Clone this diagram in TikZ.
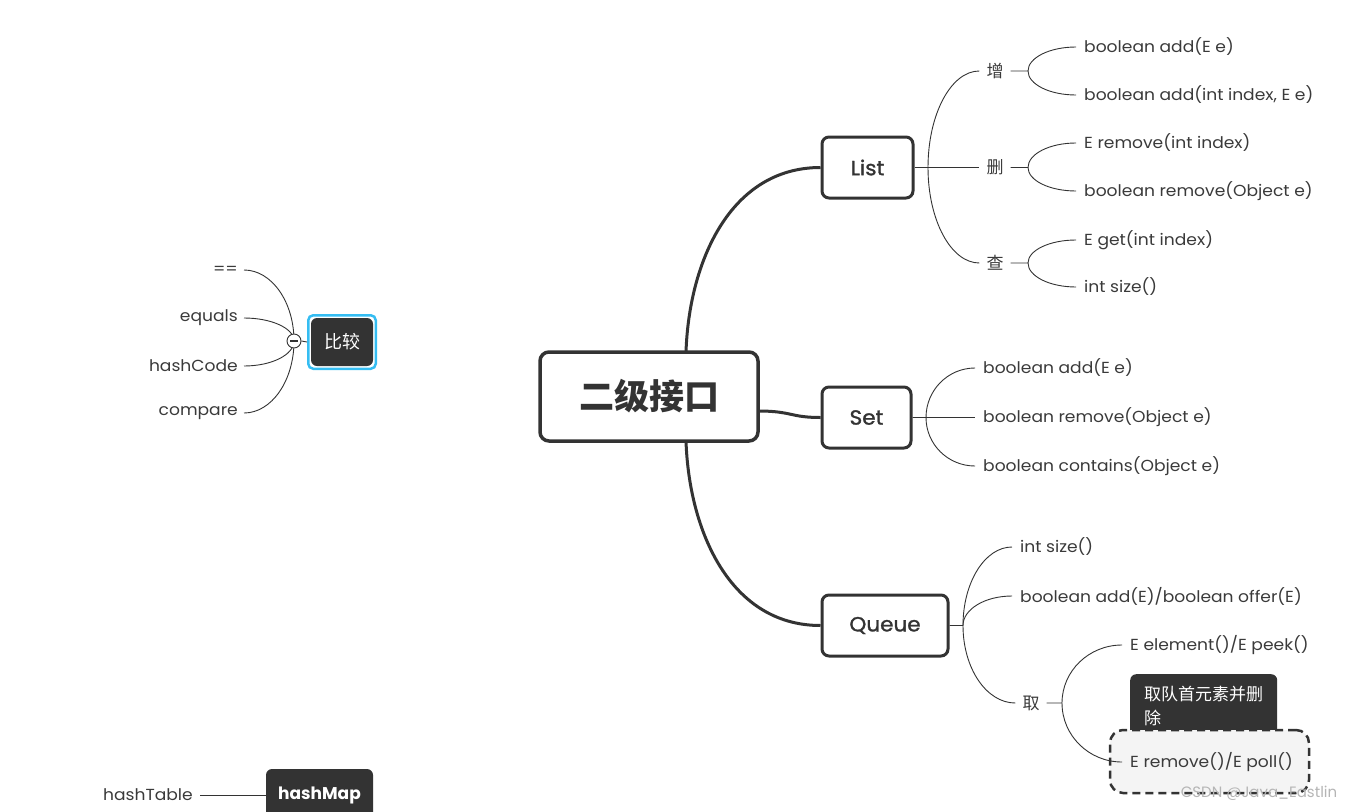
\documentclass[tikz,border=0pt]{standalone}
\usepackage{fontspec}
\usetikzlibrary{calc}
\setmainfont{Poppins}
\newfontfamily\leaffont{Poppins}[FakeStretch=1.07]
\newfontfamily\subfont{Poppins}[FakeBold=1.3,FakeStretch=1.05]
\newfontfamily\cjk{Noto Sans CJK SC}
\definecolor{ink}{HTML}{333333}
\definecolor{txt}{HTML}{3A3A3A}
\definecolor{hl}{HTML}{35BDF2}
\definecolor{selbg}{HTML}{F4F4F4}
\definecolor{wm}{HTML}{B5B5B5}
\begin{document}
\begin{tikzpicture}[x=1pt,y=-1pt,
 rootbox/.style={draw=ink,line width=3.5pt,rounded corners=9pt,fill=white,minimum width=218pt,minimum height=89pt,inner sep=0pt,text=ink,font=\cjk\bfseries\fontsize{35}{40}\selectfont},
 subbox/.style={draw=ink,line width=3pt,rounded corners=7pt,fill=white,minimum height=61pt,inner sep=0pt,text=ink,font=\subfont\fontsize{20.5}{24}\selectfont},
 branch/.style={draw=ink,line width=3pt},
 twig/.style={draw=ink,line width=0.9pt},
 leaf/.style={anchor=west,inner xsep=8pt,inner ysep=0pt,text=txt,font=\leaffont\fontsize{16}{18}\selectfont},
 leafl/.style={anchor=east,inner xsep=6pt,inner ysep=0pt,text=txt,font=\leaffont\fontsize{16}{18}\selectfont},
 hz/.style={inner xsep=7pt,inner ysep=0pt,text=txt,font=\cjk\fontsize{17}{20}\selectfont},
 dark/.style={fill=ink,text=white,rounded corners=6pt,inner sep=0pt},
 arcto/.style={to path={.. controls ($(\tikztostart)!0.552!(\tikztostart|-\tikztotarget)$) and ($(\tikztotarget)!0.552!(\tikztostart|-\tikztotarget)$) .. (\tikztotarget)}},
]
\useasboundingbox (0,0) rectangle (1354,811);

% central and main branches
\node[rootbox] (root) at (649,396.5) {二级接口};
\node[subbox,minimum width=91pt] (list) at (867.5,167.5) {List};
\node[subbox,minimum width=89pt] (set) at (866.5,417.5) {Set};
\node[subbox,minimum width=126pt] (queue) at (885,625.5) {Queue};
\coordinate (rN) at (686,352);
\coordinate (rE) at (758,411);
\coordinate (rS) at (686,441);
\draw[branch] (rN) .. controls (689,262) and (730,167.5) .. (list.west);
\draw[branch] (rE) .. controls (792,411) and (790,417.5) .. (set.west);
\draw[branch] (rS) .. controls (689,531) and (730,625.5) .. (queue.west);

% List
\coordinate (lf) at (928,167.5);
\node[hz] (zeng) at (995,71) {增};
\node[hz] (shan) at (995,167.5) {删};
\node[hz] (cha) at (995,263) {查};
\draw[twig] (list.east) -- (lf);
\draw[twig] (lf) to[arcto] (zeng.west);
\draw[twig] (lf) -- (shan.west);
\draw[twig] (lf) to[arcto] (cha.west);

\coordinate (fz) at (1028,71);
\node[leaf] (z1) at (1076,47) {boolean add(E e)};
\node[leaf] (z2) at (1076,95) {boolean add(int index, E e)};
\draw[twig] (zeng.east) -- (fz) to[arcto] (z1.west);
\draw[twig] (fz) to[arcto] (z2.west);

\coordinate (fs) at (1028,167.5);
\node[leaf] (s1) at (1076,143) {E remove(int index)};
\node[leaf] (s2) at (1076,191) {boolean remove(Object e)};
\draw[twig] (shan.east) -- (fs) to[arcto] (s1.west);
\draw[twig] (fs) to[arcto] (s2.west);

\coordinate (fc) at (1028,263);
\node[leaf] (c1) at (1076,240) {E get(int index)};
\node[leaf] (c2) at (1076,287) {int size()};
\draw[twig] (cha.east) -- (fc) to[arcto] (c1.west);
\draw[twig] (fc) to[arcto] (c2.west);

% Set
\coordinate (sf) at (926,417.5);
\node[leaf] (t1) at (975,368) {boolean add(E e)};
\node[leaf] (t2) at (975,417.5) {boolean remove(Object e)};
\node[leaf] (t3) at (975,466) {boolean contains(Object e)};
\draw[twig] (set.east) -- (sf) to[arcto] (t1.west);
\draw[twig] (sf) -- (t2.west);
\draw[twig] (sf) to[arcto] (t3.west);

% Queue
\coordinate (qf) at (963,625.5);
\node[leaf] (q1) at (1012,547) {int size()};
\node[leaf] (q2) at (1012,596) {boolean add(E)/boolean offer(E)};
\node[hz] (qu) at (1031,703) {取};
\draw[twig] (queue.east) -- (qf) to[arcto] (q1.west);
\draw[twig] (qf) to[arcto] (q2.west);
\draw[twig] (qf) to[arcto] (qu.west);

\node[dark,anchor=north west,minimum width=147pt,minimum height=64pt,align=left,font=\cjk\fontsize{17}{24}\selectfont] (note) at (1130,674) {取队首元素并删\\除};
\node[draw=ink,dash pattern=on 8pt off 5pt,line width=2.5pt,fill=selbg,rounded corners=13pt,minimum width=199pt,minimum height=63pt,inner sep=0pt] (sel) at (1209.5,761.5) {};

\coordinate (fq) at (1062,703);
\node[leaf] (q3) at (1122,645) {E element()/E peek()};
\node[leaf] (q4) at (1122,762) {E remove()/E poll()};
\draw[twig] (qu.east) -- (fq) to[arcto] (q3.west);
\draw[twig] (fq) to[arcto] (q4.west);

\node[text=wm,inner sep=0pt,font=\fontsize{15}{18}\selectfont] (wmk) at (1259,793) {CSDN @Java\_Eastlin};

% compare
\node[draw=hl,line width=2.5pt,rounded corners=5pt,minimum width=67.5pt,minimum height=53.5pt,inner sep=0pt] (cmpo) at (342,342) {};
\node[dark,minimum width=62pt,minimum height=48pt,font=\cjk\fontsize{18}{20}\selectfont] (cmp) at (342,342) {比较};
\coordinate (fold) at (294,341);
\node[leafl] (k1) at (244,270) {==};
\node[leafl] (k2) at (244,318) {equals};
\node[leafl] (k3) at (244,366) {hashCode};
\node[leafl] (k4) at (244,413) {compare};
\draw[twig] (fold) to[arcto] (k1.east);
\draw[twig] (fold) to[arcto] (k2.east);
\draw[twig] (fold) to[arcto] (k3.east);
\draw[twig] (fold) to[arcto] (k4.east);
\node[circle,draw=ink,fill=white,line width=0.9pt,minimum size=14pt,inner sep=0pt] (fb) at (fold) {\color{ink}\rule{8pt}{1.2pt}};
\draw[twig] (fb.east) -- (cmpo.west);

% hashMap
\node[dark,minimum width=107pt,minimum height=52pt,font=\bfseries\fontsize{17}{20}\selectfont] (hm) at (319.5,795) {hashMap};
\node[leafl,inner xsep=7pt] (ht) at (200,795) {hashTable};
\draw[twig] (ht.east) -- (hm.west);
\end{tikzpicture}
\end{document}
